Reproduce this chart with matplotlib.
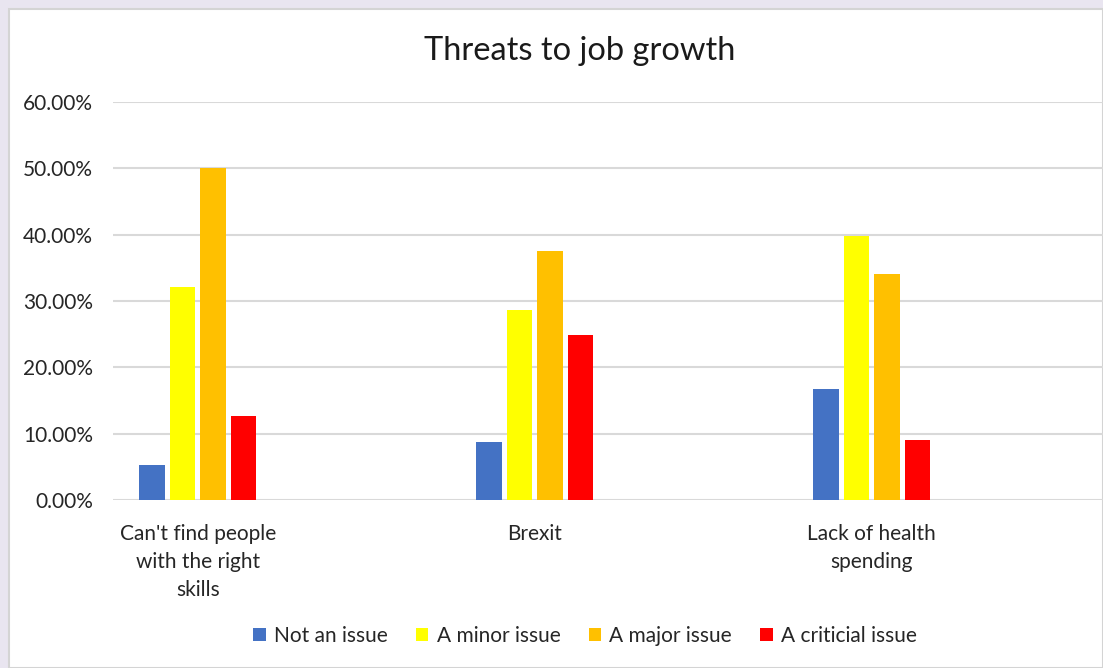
import matplotlib
matplotlib.use("Agg")
import matplotlib.pyplot as plt
from matplotlib.patches import Rectangle, Patch
from matplotlib.ticker import PercentFormatter
import numpy as np

# Data
categories = ["Can't find people\nwith the right\nskills", "Brexit", "Lack of health\nspending"]
series_names = ["Not an issue", "A minor issue", "A major issue", "A criticial issue"]
not_an_issue = [0.053, 0.087, 0.167]
minor_issue = [0.321, 0.286, 0.398]
major_issue = [0.500, 0.375, 0.340]
critical_issue = [0.126, 0.248, 0.091]
y_ticks = [0.0, 0.1, 0.2, 0.3, 0.4, 0.5, 0.6]

colors = ["#4472C4", "#FFFF00", "#FFC000", "#FF0000"]
series = [not_an_issue, minor_issue, major_issue, critical_issue]

plt.rcParams['font.family'] = ['Lato', 'DejaVu Sans']

W, H = 1103, 668
fig = plt.figure(figsize=(W / 100, H / 100), dpi=100)
fig.patch.set_facecolor("#E9E5F0")

# chart area panel with a thin grey frame
panel = Rectangle((8.5 / W, 0), 1 - 8.5 / W, 1 - 8.5 / H, transform=fig.transFigure,
                  facecolor="white", edgecolor="#D4D4D4", linewidth=1.5, zorder=-5)
fig.patches.append(panel)

ax = fig.add_axes([113 / W, 168 / H, 1 - 113 / W, (566 - 168) / H])
ax.set_facecolor("none")

x = np.arange(len(categories))
pitch = 0.0905
width = 0.0757
for i, (vals, c, name) in enumerate(zip(series, colors, series_names)):
    ax.bar(x + (i - 1.5) * pitch, vals, width=width, color=c, label=name, zorder=3)

ax.set_ylim(0, 0.6)
ax.set_xlim(-0.252, 2.686)
ax.set_yticks(y_ticks)
ax.yaxis.set_major_formatter(PercentFormatter(1.0, decimals=2))
ax.grid(axis="y", color="#D9D9D9", linewidth=1.5, zorder=0)
ax.set_axisbelow(True)
for s in ax.spines.values():
    s.set_visible(False)
ax.tick_params(axis="both", length=0, labelsize=15, colors="#262626")
ax.tick_params(axis="y", pad=14.4)
ax.tick_params(axis="x", pad=17.5)
ax.set_xticks(x)
ax.set_xticklabels(categories, linespacing=1.5)

fig.text(580 / W, 1 - 51 / H, "Threats to job growth", ha="center", va="center",
         fontsize=23.5, color="#1a1a1a")

handles = [Patch(facecolor=c, label=n) for c, n in zip(colors, series_names)]
fig.legend(handles=handles, loc="center", bbox_to_anchor=(585 / W, 1 - 636 / H),
           ncol=4, frameon=False, fontsize=15, handlelength=0.6, handleheight=0.6,
           handletextpad=0.4, columnspacing=1.35, labelcolor="#262626")

fig.savefig("out.png", dpi=100, facecolor=fig.get_facecolor())
